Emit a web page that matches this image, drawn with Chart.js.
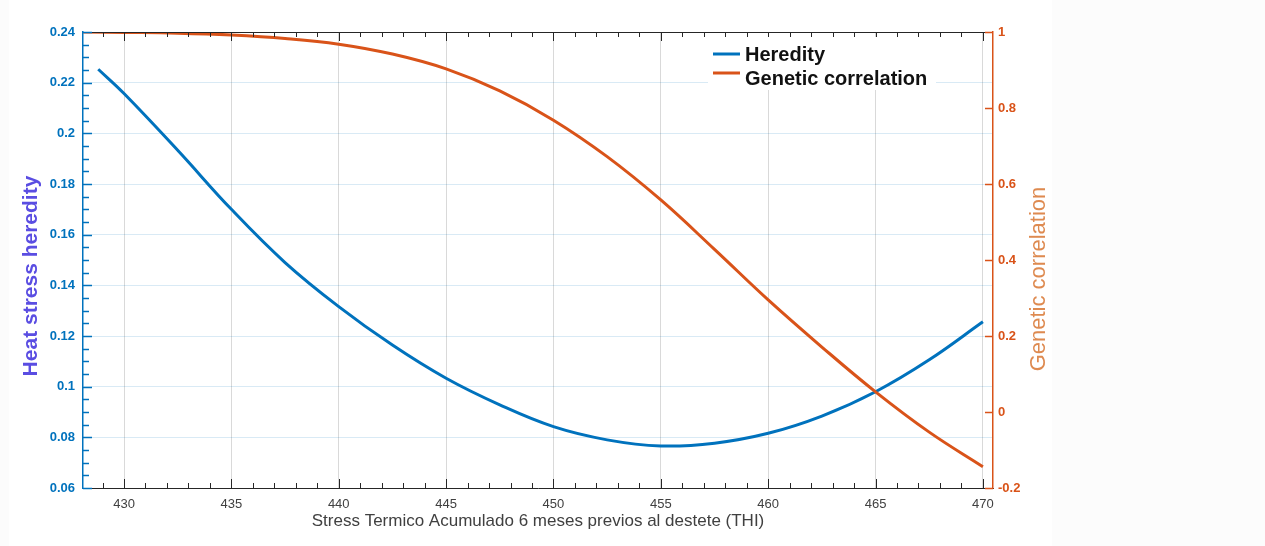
<!DOCTYPE html>
<html lang="es">
<head>
<meta charset="utf-8">
<title>Heredity y Genetic correlation</title>
<script src="https://cdn.jsdelivr.net/npm/chart.js@4.4.1/dist/chart.umd.min.js"></script>
<style>
  html, body { margin: 0; padding: 0; background: #fcfcfc; }
</style>
</head>
<body>
<canvas id="grafico" width="1265" height="546"></canvas>
<script>
// Datos
const thiHeredity = [428.8, 430, 432.5, 435, 437.5, 440, 442.5, 445, 447.5, 450, 452.5, 455, 457.5, 460, 462.5, 465, 467.5, 470];
const heredity = [0.2253, 0.2157, 0.1933, 0.1700, 0.1490, 0.1316, 0.1164, 0.1033, 0.0928, 0.0842, 0.0790, 0.0766, 0.0777, 0.0816, 0.0884, 0.0980, 0.1106, 0.1256];

const thiCorrelation = [428.1, 430, 432.5, 435, 437.5, 440, 442.5, 445, 447.5, 450, 452.5, 455, 457.5, 460, 462.5, 465, 467.5, 470];
const geneticCorrelation = [1.0, 0.999, 0.997, 0.992, 0.983, 0.968, 0.942, 0.903, 0.845, 0.768, 0.672, 0.558, 0.428, 0.295, 0.171, 0.053, -0.053, -0.144];

// Marcas de los ejes
const xTicks = [430, 435, 440, 445, 450, 455, 460, 465, 470];
const yLeftTicks = [0.06, 0.08, 0.1, 0.12, 0.14, 0.16, 0.18, 0.2, 0.22, 0.24];
const yRightTicks = [-0.2, 0, 0.2, 0.4, 0.6, 0.8, 1];

const xTitle = 'Stress Termico Acumulado 6 meses previos al destete (THI)';
const yLeftTitle = 'Heat stress heredity';
const yRightTitle = 'Genetic correlation';

const azul = '#0072BD';
const naranja = '#D95319';

Chart.defaults.font.family = '"Liberation Sans", Arial, sans-serif';

// Plugin para marcas menores, caja superior, títulos verticales y leyenda
const marcasEjes = {
    id: 'marcasEjes',
    beforeDraw(chart) {
        const ctx = chart.ctx;
        ctx.save();
        ctx.fillStyle = '#ffffff';
        ctx.fillRect(9, 0, 1043, chart.height);
        ctx.restore();
    },
    afterDraw(chart) {
        const { ctx, chartArea: a, scales } = chart;
        const sx = scales.x, sy = scales.y, sy1 = scales.y1;
        ctx.save();

        // línea superior de la caja
        ctx.strokeStyle = '#262626';
        ctx.lineWidth = 1;
        ctx.beginPath();
        ctx.moveTo(a.left, a.top + 0.5);
        ctx.lineTo(a.right, a.top + 0.5);
        ctx.stroke();

        // marcas en x (abajo y arriba)
        for (let v = Math.ceil(sx.min); v <= sx.max; v++) {
            const px = Math.round(sx.getPixelForValue(v)) + 0.5;
            const largo = v % 5 === 0 ? 9 : 5;
            ctx.beginPath();
            ctx.moveTo(px, a.bottom);
            ctx.lineTo(px, a.bottom - largo);
            ctx.moveTo(px, a.top);
            ctx.lineTo(px, a.top + largo);
            ctx.stroke();
        }

        // marcas eje izquierdo
        ctx.strokeStyle = azul;
        ctx.lineWidth = 1.5;
        const nMenor = Math.round((sy.max - sy.min) / 0.005);
        for (let i = 0; i <= nMenor; i++) {
            const py = Math.round(sy.getPixelForValue(sy.min + i * 0.005)) + 0.5;
            const largo = i % 4 === 0 ? 9 : 6;
            ctx.beginPath();
            ctx.moveTo(a.left, py);
            ctx.lineTo(a.left + largo, py);
            ctx.stroke();
        }

        // marcas eje derecho
        ctx.strokeStyle = naranja;
        yRightTicks.forEach(v => {
            const py = Math.round(sy1.getPixelForValue(v)) + 0.5;
            ctx.beginPath();
            ctx.moveTo(a.right - 8, py);
            ctx.lineTo(a.right, py);
            ctx.stroke();
        });

        // títulos verticales
        ctx.textAlign = 'center';
        ctx.textBaseline = 'middle';
        ctx.save();
        ctx.translate(31, 276);
        ctx.rotate(-Math.PI / 2);
        ctx.font = 'bold 21px "Liberation Sans", Arial, sans-serif';
        ctx.fillStyle = '#5a4de2';
        ctx.fillText(yLeftTitle, 0, 0);
        ctx.restore();

        ctx.save();
        ctx.translate(1039, 279);
        ctx.rotate(-Math.PI / 2);
        ctx.font = '22px "Liberation Sans", Arial, sans-serif';
        ctx.fillStyle = '#de8a50';
        ctx.fillText(yRightTitle, 0, 0);
        ctx.restore();

        // leyenda
        ctx.fillStyle = '#ffffff';
        ctx.fillRect(708, 37, 228, 53);
        ctx.font = 'bold 20px "Liberation Sans", Arial, sans-serif';
        ctx.textAlign = 'left';
        ctx.textBaseline = 'alphabetic';
        const filas = [{ y: 54, base: 61 }, { y: 73, base: 85 }];
        chart.data.datasets.forEach((ds, i) => {
            ctx.strokeStyle = ds.borderColor;
            ctx.lineWidth = 3;
            ctx.beginPath();
            ctx.moveTo(713, filas[i].y);
            ctx.lineTo(740, filas[i].y);
            ctx.stroke();
            ctx.fillStyle = '#111111';
            ctx.fillText(ds.label, 745, filas[i].base);
        });

        ctx.restore();
    }
};

const ctx = document.getElementById('grafico').getContext('2d');

new Chart(ctx, {
    type: 'line',
    data: {
        datasets: [{
            label: 'Heredity',
            data: thiHeredity.map((x, i) => ({ x: x, y: heredity[i] })),
            yAxisID: 'y',
            borderColor: azul,
            borderWidth: 3,
            pointRadius: 0,
            tension: 0.4,
            order: 2
        }, {
            label: 'Genetic correlation',
            data: thiCorrelation.map((x, i) => ({ x: x, y: geneticCorrelation[i] })),
            yAxisID: 'y1',
            borderColor: naranja,
            borderWidth: 3,
            pointRadius: 0,
            tension: 0.4,
            order: 1
        }]
    },
    options: {
        responsive: false,
        animation: false,
        layout: { padding: { top: 32, left: 0, right: 0, bottom: 0 } },
        plugins: {
            legend: { display: false },
            tooltip: { enabled: false }
        },
        scales: {
            x: {
                type: 'linear',
                min: 428.09,
                max: 470.47,
                afterBuildTicks: s => { s.ticks = xTicks.map(v => ({ value: v })); },
                afterFit: s => { s.height = 58; },
                grid: { color: 'rgba(0,0,0,0.15)', drawTicks: false },
                border: { color: '#262626', width: 1 },
                ticks: {
                    color: '#404040',
                    font: { size: 13 },
                    padding: 9,
                    maxRotation: 0,
                    autoSkip: false,
                    callback: v => String(v)
                },
                title: {
                    display: true,
                    text: xTitle,
                    color: '#404040',
                    font: { size: 17 },
                    padding: { top: 0, bottom: 14 }
                }
            },
            y: {
                position: 'left',
                min: 0.06,
                max: 0.24,
                afterBuildTicks: s => { s.ticks = yLeftTicks.map(v => ({ value: v })); },
                afterFit: s => { s.width = 83; },
                grid: { color: 'rgba(0,114,189,0.15)', drawTicks: false },
                border: { color: azul, width: 1.5 },
                ticks: {
                    color: azul,
                    font: { size: 13, weight: 'bold' },
                    padding: 8,
                    callback: v => String(+v.toFixed(2))
                }
            },
            y1: {
                position: 'right',
                min: -0.2,
                max: 1,
                afterBuildTicks: s => { s.ticks = yRightTicks.map(v => ({ value: v })); },
                afterFit: s => { s.width = 272; },
                grid: { display: false, drawTicks: false },
                border: { color: naranja, width: 1.5 },
                ticks: {
                    color: naranja,
                    font: { size: 13, weight: 'bold' },
                    padding: 5,
                    callback: v => String(+v.toFixed(1))
                }
            }
        }
    },
    plugins: [marcasEjes]
});
</script>
</body>
</html>
